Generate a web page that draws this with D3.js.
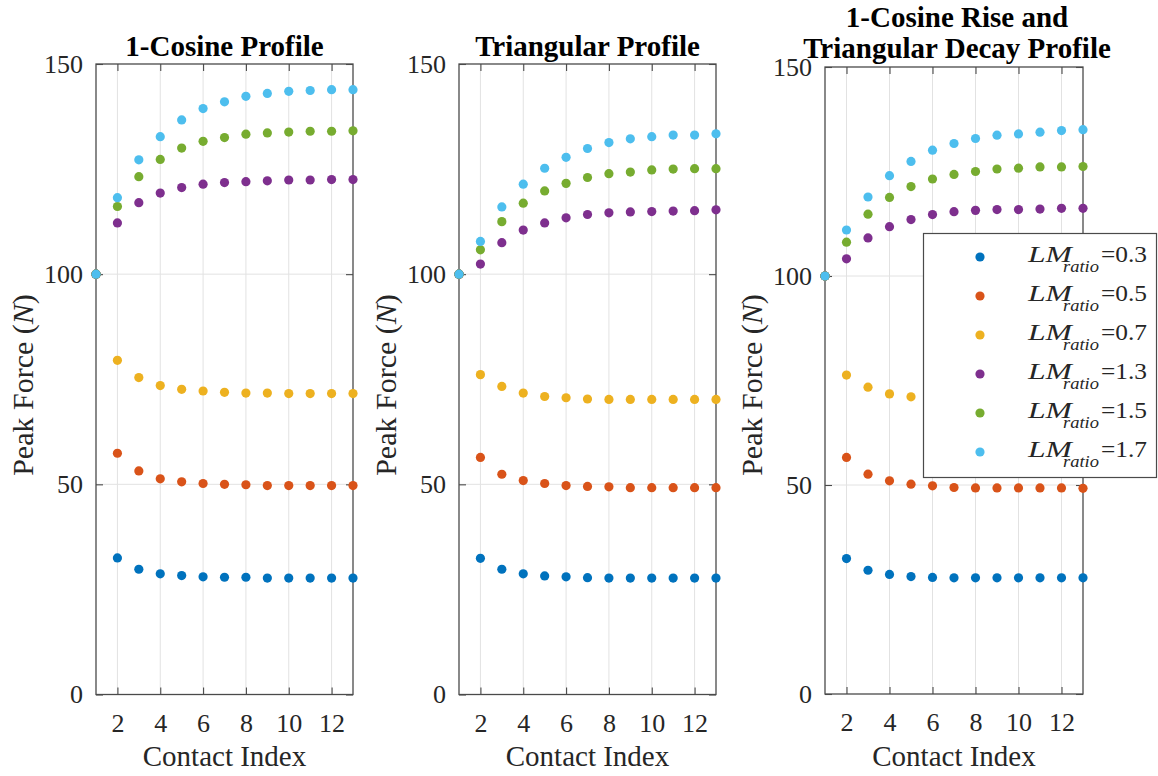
<!DOCTYPE html>
<html>
<head>
<meta charset="utf-8">
<script src="https://cdn.jsdelivr.net/npm/d3@7/dist/d3.min.js"></script>
<style>
  body { margin: 0; background: #fff; }
  text { font-family: "Liberation Serif", "Times New Roman", serif; fill: #262626; }
</style>
</head>
<body>
<svg id="chart" width="1158" height="776"></svg>
<script>
// ---- data -------------------------------------------------------------
const contactIndex = [1, 2, 3, 4, 5, 6, 7, 8, 9, 10, 11, 12, 13];
const xTicks = [2, 4, 6, 8, 10, 12];
const yTicks = [0, 50, 100, 150];
const ratioLabels = ["0.3", "0.5", "0.7", "1.3", "1.5", "1.7"];
const seriesColors = ["#0072BD", "#D95319", "#EDB120", "#7E2F8E", "#77AC30", "#4DBEEE"];
const panelTitles = [
  ["1-Cosine Profile"],
  ["Triangular Profile"],
  ["1-Cosine Rise and", "Triangular Decay Profile"]
];

// 1-Cosine profile, peak force per contact
const cosine03 = [100, 32.5, 29.8, 28.7, 28.3, 28.0, 27.9, 27.9, 27.7, 27.7, 27.7, 27.7, 27.7];
const cosine05 = [100, 57.4, 53.2, 51.3, 50.6, 50.2, 50.0, 49.9, 49.7, 49.7, 49.7, 49.7, 49.7];
const cosine07 = [100, 79.5, 75.4, 73.5, 72.6, 72.2, 71.9, 71.7, 71.7, 71.6, 71.6, 71.6, 71.6];
const cosine13 = [100, 112.2, 117.0, 119.3, 120.6, 121.4, 121.8, 122.0, 122.2, 122.4, 122.4, 122.5, 122.5];
const cosine15 = [100, 116.1, 123.2, 127.3, 130.0, 131.6, 132.5, 133.3, 133.6, 133.8, 134.0, 134.0, 134.1];
const cosine17 = [100, 118.2, 127.2, 132.7, 136.7, 139.4, 141.0, 142.3, 143.0, 143.5, 143.7, 143.9, 143.9];

// Triangular profile
const triangle03 = [100, 32.4, 29.8, 28.7, 28.2, 28.0, 27.8, 27.7, 27.7, 27.7, 27.7, 27.7, 27.7];
const triangle05 = [100, 56.4, 52.4, 50.9, 50.2, 49.7, 49.5, 49.4, 49.2, 49.2, 49.2, 49.2, 49.2];
const triangle07 = [100, 76.1, 73.3, 71.7, 70.9, 70.6, 70.3, 70.2, 70.2, 70.2, 70.2, 70.2, 70.2];
const triangle13 = [100, 102.4, 107.5, 110.5, 112.2, 113.4, 114.2, 114.6, 114.8, 114.9, 115.0, 115.1, 115.3];
const triangle15 = [100, 105.8, 112.5, 116.9, 119.8, 121.6, 123.0, 123.9, 124.3, 124.8, 125.0, 125.1, 125.1];
const triangle17 = [100, 107.8, 116.0, 121.4, 125.2, 127.8, 129.9, 131.3, 132.2, 132.7, 133.1, 133.1, 133.4];

// 1-Cosine rise and triangular decay profile
const mixed03 = [100, 32.4, 29.6, 28.6, 28.1, 27.9, 27.8, 27.8, 27.8, 27.8, 27.8, 27.8, 27.8];
const mixed05 = [100, 56.6, 52.6, 51.0, 50.2, 49.8, 49.4, 49.3, 49.3, 49.3, 49.3, 49.3, 49.2];
const mixed07 = [100, 76.3, 73.4, 71.8, 71.1, 70.8, 70.6, 70.5, 70.4, 70.4, 70.4, 70.4, 70.4];
const mixed13 = [100, 104.1, 109.1, 111.8, 113.5, 114.7, 115.4, 115.7, 115.9, 115.9, 116.0, 116.2, 116.2];
const mixed15 = [100, 108.1, 114.8, 118.8, 121.4, 123.2, 124.3, 125.0, 125.6, 125.8, 126.1, 126.1, 126.2];
const mixed17 = [100, 111.0, 118.9, 124.0, 127.4, 130.1, 131.7, 132.9, 133.7, 134.0, 134.4, 134.8, 135.0];

const panelSeries = [
  [cosine03, cosine05, cosine07, cosine13, cosine15, cosine17],
  [triangle03, triangle05, triangle07, triangle13, triangle15, triangle17],
  [mixed03, mixed05, mixed07, mixed13, mixed15, mixed17]
];

// ---- layout -----------------------------------------------------------
const panelBoxes = [
  { left: 96,  right: 353,  top: 64, bottom: 694.5 },
  { left: 459, right: 716,  top: 64, bottom: 694.5 },
  { left: 825, right: 1083, top: 67, bottom: 694 }
];
const axisColor = "#4a4a4a";
const gridColor = "#e2e2e2";
const markerR = 4.6;

const svg = d3.select("#chart");

panelBoxes.forEach((box, i) => {
  const x = d3.scaleLinear().domain([1, 13]).range([box.left, box.right]);
  const y = d3.scaleLinear().domain([0, 150]).range([box.bottom, box.top]);
  const g = svg.append("g").attr("class", "panel");

  // grid
  g.append("g").selectAll("line").data(xTicks).join("line")
    .attr("x1", d => x(d)).attr("x2", d => x(d))
    .attr("y1", box.top).attr("y2", box.bottom)
    .attr("stroke", gridColor).attr("stroke-width", 1);
  g.append("g").selectAll("line").data(yTicks.slice(1, -1)).join("line")
    .attr("x1", box.left).attr("x2", box.right)
    .attr("y1", d => y(d)).attr("y2", d => y(d))
    .attr("stroke", gridColor).attr("stroke-width", 1);

  // axes (inward ticks on all four sides)
  const styleAxis = sel => {
    sel.select(".domain").remove();
    sel.selectAll(".tick line").attr("stroke", axisColor).attr("stroke-width", 1.1);
    sel.selectAll(".tick text").attr("fill", "#262626").attr("font-size", 26)
      .attr("font-family", "Liberation Serif, Times New Roman, serif");
  };
  g.append("g").attr("transform", `translate(0,${box.bottom})`)
    .call(d3.axisBottom(x).tickValues(xTicks).tickSize(-7).tickPadding(19))
    .call(styleAxis);
  g.append("g").attr("transform", `translate(0,${box.top})`)
    .call(d3.axisTop(x).tickValues(xTicks).tickSize(-7).tickFormat(""))
    .call(styleAxis);
  g.append("g").attr("transform", `translate(${box.left},0)`)
    .call(d3.axisLeft(y).tickValues(yTicks).tickSize(-7).tickPadding(13))
    .call(styleAxis);
  g.append("g").attr("transform", `translate(${box.right},0)`)
    .call(d3.axisRight(y).tickValues(yTicks).tickSize(-7).tickFormat(""))
    .call(styleAxis);

  // box
  g.append("rect")
    .attr("x", box.left).attr("y", box.top)
    .attr("width", box.right - box.left).attr("height", box.bottom - box.top)
    .attr("fill", "none").attr("stroke", axisColor).attr("stroke-width", 1.3);

  // markers
  panelSeries[i].forEach((values, s) => {
    g.append("g").selectAll("circle").data(values).join("circle")
      .attr("cx", (d, k) => x(contactIndex[k]))
      .attr("cy", d => y(d))
      .attr("r", markerR)
      .attr("fill", seriesColors[s]);
  });

  // titles
  const cx = (box.left + box.right) / 2;
  const lines = panelTitles[i];
  lines.forEach((t, k) => {
    g.append("text")
      .attr("x", cx + (lines.length > 1 ? 3 : 0))
      .attr("y", lines.length > 1 ? 27 + k * 31 : 56)
      .attr("text-anchor", "middle")
      .attr("font-size", 29).attr("font-weight", "bold")
      .style("fill", "#000")
      .text(t);
  });

  // axis labels
  g.append("text")
    .attr("x", cx).attr("y", 766)
    .attr("text-anchor", "middle").attr("font-size", 29)
    .text("Contact Index");

  const yl = g.append("text")
    .attr("transform", `translate(${box.left - 63},385) rotate(-90)`)
    .attr("text-anchor", "middle").attr("font-size", 30);
  yl.append("tspan").text("Peak Force (");
  yl.append("tspan").attr("font-style", "italic").text("N");
  yl.append("tspan").text(")");
});

// ---- legend -----------------------------------------------------------
const legend = svg.append("g").attr("class", "legend");
legend.append("rect")
  .attr("x", 923.5).attr("y", 233.5).attr("width", 233).attr("height", 244)
  .attr("fill", "#fff").attr("stroke", "#4a4a4a").attr("stroke-width", 1.2);

const rowY = d3.scalePoint().domain(ratioLabels).range([257, 452]);
ratioLabels.forEach((r, s) => {
  const yy = rowY(r);
  legend.append("circle").attr("cx", 980).attr("cy", yy).attr("r", markerR).attr("fill", seriesColors[s]);
  legend.append("text").attr("x", 1028).attr("y", yy + 5)
    .attr("font-size", 23).attr("font-style", "italic")
    .attr("textLength", 44).attr("lengthAdjust", "spacingAndGlyphs")
    .text("LM");
  legend.append("text").attr("x", 1063).attr("y", yy + 15)
    .attr("font-size", 17).attr("font-style", "italic")
    .attr("textLength", 36).attr("lengthAdjust", "spacingAndGlyphs")
    .text("ratio");
  legend.append("text").attr("x", 1101).attr("y", yy + 5)
    .attr("font-size", 23)
    .attr("textLength", 46).attr("lengthAdjust", "spacingAndGlyphs")
    .text("=" + r);
});
</script>
</body>
</html>
